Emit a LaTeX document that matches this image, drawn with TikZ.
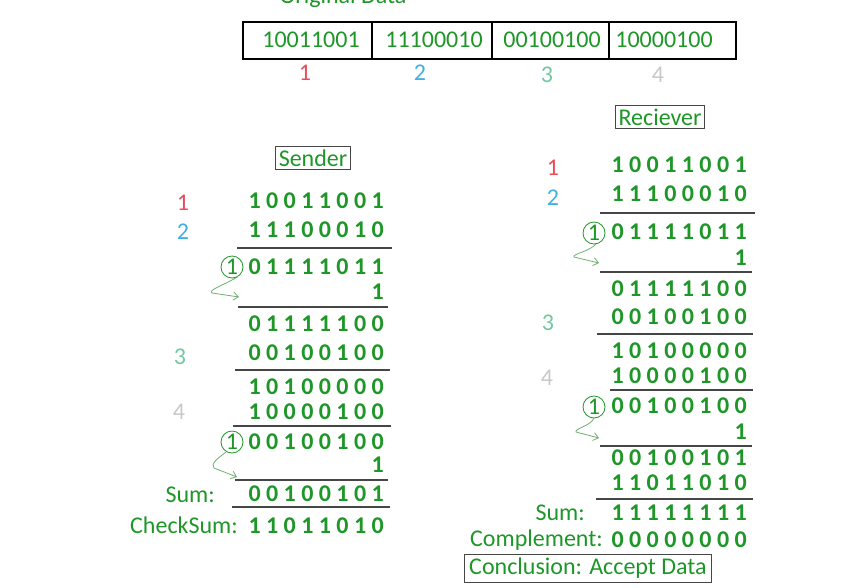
\documentclass[tikz,border=0pt]{standalone}
\usepackage{fontspec}
\setmainfont{Carlito}
\usetikzlibrary{positioning,arrows.meta}
\definecolor{txtgreen}{RGB}{30,150,40}
\definecolor{wrapgreen}{RGB}{110,175,110}
\definecolor{numred}{RGB}{232,76,90}
\definecolor{numblue}{RGB}{65,175,225}
\definecolor{numteal}{RGB}{115,200,160}
\definecolor{numgray}{RGB}{200,200,200}
\definecolor{rulegray}{RGB}{70,70,70}

\begin{document}
\begin{tikzpicture}[x=1pt, y=-1pt, font=\fontsize{24}{28}\selectfont]
  \tikzstyle{bits}=[font=\fontsize{24}{28}\selectfont\bfseries, text=txtgreen, anchor=east, inner sep=0pt]
  \tikzstyle{word}=[text=txtgreen, anchor=east, inner sep=0pt]
  \tikzstyle{tag}=[draw=rulegray, line width=1pt, text=txtgreen, inner sep=3pt]
  \tikzstyle{carry}=[circle, draw=txtgreen, line width=0.8pt, text=txtgreen, inner sep=0pt, minimum size=22pt]
  \tikzstyle{rule}=[draw=rulegray, line width=1.3pt]
  \tikzstyle{wrap}=[draw=wrapgreen, line width=0.8pt, -{Straight Barb[length=5pt,width=8pt]}]
  \useasboundingbox (0,0) rectangle (851,587);
  % original data
  \node (orig) [text=txtgreen, anchor=base] at (343,3) {Original Data};
  \draw [line width=1.2pt] (243,22) rectangle (736,59);
  \foreach \x in {372,492,609} \draw [line width=1.2pt] (\x,22) -- (\x,59);
  \foreach \x/\b [count=\i] in {311/10011001,434/11100010,552/00100100,664/10000100}
    \node (d\i) [text=txtgreen, inner sep=0pt] at (\x,40) {\b};
  \node (n1) [text=numred] at (305,73) {1};
  \node (n2) [text=numblue] at (420,73) {2};
  \node (n3) [text=numteal] at (547,75) {3};
  \node (n4) [text=numgray] at (658,75) {4};
  % sender
  \node (sender) [tag] at (313,158) {Sender};
  \foreach \y/\b [count=\i] in {201/1 0 0 1 1 0 0 1, 230/1 1 1 0 0 0 1 0, 267/0 1 1 1 1 0 1 1,
      292/1, 324/0 1 1 1 1 1 0 0, 353/0 0 1 0 0 1 0 0, 387/1 0 1 0 0 0 0 0, 412/1 0 0 0 0 1 0 0,
      442/0 0 1 0 0 1 0 0, 465/1, 494/0 0 1 0 0 1 0 1, 526/1 1 0 1 1 0 1 0}
    \node (s\i) [bits] at (384,\y) {\b};
  \node (sn1) [text=numred] at (183,203) {1};
  \node (sn2) [text=numblue] at (183,232) {2};
  \node (sn3) [text=numteal] at (180,357) {3};
  \node (sn4) [text=numgray] at (179,412) {4};
  \foreach \y/\a/\b in {248/237/392, 307/238/388, 370/235/390, 426/233/391, 480/235/388, 507/232/390}
    \draw [rule] (\a,\y) -- (\b,\y);
  \node (sc1) [carry] at (232,267) {1};
  \node (sc2) [carry] at (232,442) {1};
  \coordinate (sw1) at (239,297);
  \coordinate (sw2) at (237,477);
  \draw [wrap] (sc1.-60) .. controls (222,286) and (208,290) .. (212,293) -- (sw1);
  \draw [wrap] (sc2.-120) .. controls (218,458) and (210,464) .. (214,468) -- (sw2);
  \node (ssum) [word] at (215,495) {Sum:};
  \node (schk) [word] at (238,525) {CheckSum:};
  % reciever
  \node (reciever) [tag] at (660,117) {Reciever};
  \foreach \y/\b [count=\i] in {165/1 0 0 1 1 0 0 1, 194/1 1 1 0 0 0 1 0, 232/0 1 1 1 1 0 1 1,
      258/1, 289/0 1 1 1 1 1 0 0, 317/0 0 1 0 0 1 0 0, 351/1 0 1 0 0 0 0 0, 376/1 0 0 0 0 1 0 0,
      406/0 0 1 0 0 1 0 0, 432/1, 458/0 0 1 0 0 1 0 1, 483/1 1 0 1 1 0 1 0, 513/1 1 1 1 1 1 1 1,
      540/0 0 0 0 0 0 0 0}
    \node (r\i) [bits] at (747,\y) {\b};
  \node (rn1) [text=numred] at (553,168) {1};
  \node (rn2) [text=numblue] at (553,198) {2};
  \node (rn3) [text=numteal] at (548,323) {3};
  \node (rn4) [text=numgray] at (547,378) {4};
  \foreach \y/\a/\b in {213/600/755, 272/600/752, 334/597/753, 390/610/753, 446/600/752, 499/596/753}
    \draw [rule] (\a,\y) -- (\b,\y);
  \node (rc1) [carry] at (594,233) {1};
  \node (rc2) [carry] at (594,407) {1};
  \coordinate (rw1) at (599,263);
  \coordinate (rw2) at (599,438);
  \draw [wrap] (rc1.-80) .. controls (588,252) and (572,254) .. (574,257) -- (rw1);
  \draw [wrap] (rc2.-90) .. controls (590,426) and (574,429) .. (576,432) -- (rw2);
  \node (rsum) [word] at (585,513) {Sum:};
  \node (rcomp) [word] at (603,540) {Complement:};
  \node (concl) [tag, minimum width=247pt, minimum height=28pt] at (588,568) {Conclusion: Accept Data};
\end{tikzpicture}
\end{document}
